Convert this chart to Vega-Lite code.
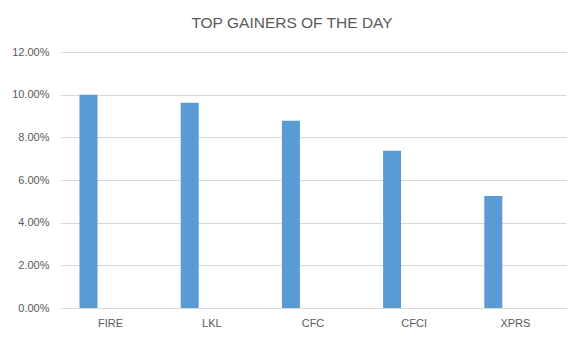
{
  "$schema": "https://vega.github.io/schema/vega-lite/v6.json",
  "width": 506,
  "height": 256,
  "autosize": "none",
  "padding": {"left": 60, "top": 52, "right": 19, "bottom": 35},
  "background": "white",
  "title": {
    "text": "TOP GAINERS OF THE DAY",
    "font": "Liberation Sans",
    "fontSize": 15.5,
    "fontWeight": "normal",
    "color": "#595959",
    "anchor": "middle",
    "dx": -21,
    "offset": 15
  },
  "data": {
    "values": [
      {"ticker": "FIRE", "gain": 0.1000, "series": "A"},
      {"ticker": "LKL", "gain": 0.0962, "series": "A"},
      {"ticker": "CFC", "gain": 0.0878, "series": "A"},
      {"ticker": "CFCI", "gain": 0.0737, "series": "A"},
      {"ticker": "XPRS", "gain": 0.0525, "series": "A"}
    ]
  },
  "mark": {"type": "bar", "color": "#5b9bd5"},
  "encoding": {
    "x": {
      "field": "ticker",
      "type": "nominal",
      "sort": null,
      "scale": {"paddingInner": 0, "paddingOuter": 0},
      "axis": {
        "title": null,
        "labelAngle": 0,
        "ticks": false,
        "domain": true,
        "domainColor": "#d9d9d9",
        "labelFont": "Liberation Sans",
        "labelFontSize": 11,
        "labelColor": "#595959",
        "labelPadding": 9
      }
    },
    "xOffset": {
      "field": "series",
      "type": "nominal",
      "scale": {"domain": ["A", "B", "C", "D"], "paddingInner": 0, "paddingOuter": 0.811, "align": 0.668}
    },
    "y": {
      "field": "gain",
      "type": "quantitative",
      "scale": {"domain": [0, 0.12], "nice": false},
      "axis": {
        "title": null,
        "format": ".2%",
        "values": [0, 0.02, 0.04, 0.06, 0.08, 0.1, 0.12],
        "domain": false,
        "ticks": false,
        "labelPadding": 11,
        "labelFont": "Liberation Sans",
        "labelFontSize": 11,
        "labelColor": "#595959",
        "gridColor": "#d9d9d9"
      }
    }
  },
  "config": {"view": {"stroke": null}}
}
